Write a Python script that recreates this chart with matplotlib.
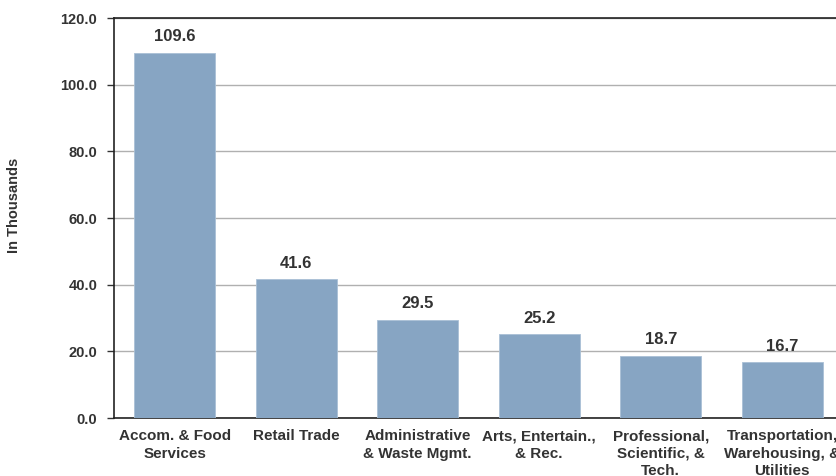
import matplotlib
matplotlib.use("Agg")
from matplotlib import pyplot as plt
import numpy as np

categories = ["Accom. & Food\nServices", "Retail Trade", "Administrative\n& Waste Mgmt.",
              "Arts, Entertain.,\n& Rec.", "Professional,\nScientific, &\nTech.",
              "Transportation,\nWarehousing, &\nUtilities"]
values = [109.6, 41.6, 29.5, 25.2, 18.7, 16.7]
yticks = [0, 20, 40, 60, 80, 100, 120]

plt.rcParams['font.family'] = ['Liberation Sans', 'DejaVu Sans']
plt.rcParams['font.weight'] = 'bold'
text_color = '#333333'

fig = plt.figure(figsize=(8.37, 4.76), dpi=100)
ax = fig.add_axes([114 / 837, 58 / 476, 729 / 837, 400 / 476])

x = np.arange(len(categories))
ax.bar(x, values, width=0.667, color='#87a5c3', edgecolor='#a9c0d6', linewidth=0.6, zorder=3)

for xi, v in zip(x, values):
    ax.annotate(f"{v:.1f}", (xi, v), xytext=(0, 11.5), textcoords='offset points',
                ha='center', va='center', fontsize=12, fontweight='bold', color=text_color)

ax.set_xlim(-0.5, len(categories) - 0.5)
ax.set_ylim(0, 120)
ax.set_yticks(yticks)
ax.set_yticklabels([f"{t:.1f}" for t in yticks], fontsize=10.5, fontweight='bold', color=text_color)
ax.set_xticks(x)
ax.set_xticklabels(categories, fontsize=11, fontweight='bold', color=text_color, linespacing=1.32)
ax.tick_params(axis='x', length=0, pad=8)
ax.tick_params(axis='y', length=5, width=1, color='#333333', pad=7, direction='out')

ax.yaxis.grid(True, color='#b0b0b0', linewidth=1, zorder=0)
ax.set_axisbelow(True)
for side in ['left', 'bottom', 'top']:
    ax.spines[side].set_color('#222222')
    ax.spines[side].set_linewidth(1.2)
ax.spines['right'].set_visible(False)

fig.text(14 / 837, 1 - 205 / 476, "In Thousands", rotation=90, ha='center', va='center',
         fontsize=10.5, fontweight='bold', color=text_color)

plt.savefig("out.png", dpi=100)
